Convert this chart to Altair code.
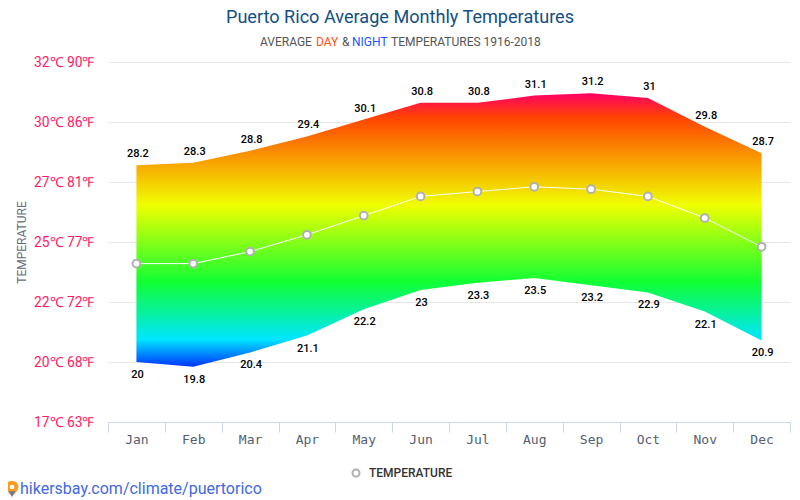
import altair as alt
import pandas as pd

months = ["Jan","Feb","Mar","Apr","May","Jun","Jul","Aug","Sep","Oct","Nov","Dec"]
day = [28.2,28.3,28.8,29.4,30.1,30.8,30.8,31.1,31.2,31,29.8,28.7]
night = [20,19.8,20.4,21.1,22.2,23,23.3,23.5,23.2,22.9,22.1,20.9]
avg = [24.1,24.1,24.6,25.3,26.1,26.9,27.1,27.3,27.2,26.9,26.0,24.8]
y_ticks = [17.5,20,22.5,25,27.5,30,32.5]

df = pd.DataFrame({"m": months, "day": day, "night": night, "avg": avg})
OX, OY = 108, 62
FONT = "Roboto"
one = alt.Data(values=[{}])

x = alt.X("m:N", sort=months, scale=alt.Scale(type="band", paddingInner=0, paddingOuter=0),
          axis=alt.Axis(title=None, labelAngle=0, labelFont="DejaVu Sans Mono", labelFontSize=13,
                        labelColor="#555e70", domainColor="#ccd6eb", tickColor="#ccd6eb",
                        tickSize=10, tickBand="extent", labelPadding=1, grid=False))
y_scale = alt.Scale(domain=[17.5, 32.5], nice=False, zero=False)
grad = alt.Gradient(gradient="linear", x1=0, x2=0, y1=0, y2=1, stops=[
    alt.GradientStop(offset=0, color="#ff0066"),
    alt.GradientStop(offset=0.09, color="#ff4400"),
    alt.GradientStop(offset=0.41, color="#f0ff00"),
    alt.GradientStop(offset=0.69, color="#11ff33"),
    alt.GradientStop(offset=0.90, color="#00e5ff"),
    alt.GradientStop(offset=1, color="#0033ff"),
])

area = alt.Chart(df).mark_area(color=grad).encode(
    x=x,
    y=alt.Y("day:Q", scale=y_scale, axis=alt.Axis(
        values=y_ticks, title="TEMPERATURE", titleFont=FONT, titleFontSize=12, titleFontWeight="normal",
        titleColor="#666e80", titleX=-80, titleY=180, domain=False, ticks=False, labelFont=FONT, labelFontSize=13.8,
        labelColor="#ff1a66", labelPadding=14, labelOffset=0.5, gridColor="#e6e6e6",
        labelExpr="floor(datum.value)+'℃ '+floor(datum.value*9/5+32)+'℉'")),
    y2="night:Q",
)
line = alt.Chart(df).mark_line(color="white", strokeWidth=1).encode(x=x, y=alt.Y("avg:Q", scale=y_scale))
pts = alt.Chart(df).mark_point(filled=False, fill="white", fillOpacity=1, stroke="#b0b0b0", strokeWidth=2,
                               opacity=1, size=60).encode(x=x, y=alt.Y("avg:Q", scale=y_scale))
lab_day = alt.Chart(df).mark_text(font=FONT, fontSize=11, fontWeight=500, color="#000", dx=1.5, dy=-11).encode(
    x=x, y=alt.Y("day:Q", scale=y_scale), text="day:Q")
lab_night = alt.Chart(df).mark_text(font=FONT, fontSize=11, fontWeight=500, color="#000", dx=1, dy=13).encode(
    x=x, y=alt.Y("night:Q", scale=y_scale), text="night:Q")


def label(s, px, py, size, color, align="left", weight=400):
    return alt.Chart(one).mark_text(text=s, font=FONT, fontSize=size, color=color, align=align,
                                    baseline="middle", fontWeight=weight).encode(
        x=alt.value(px - OX), y=alt.value(py - OY))


def marker(px, py, shape, size, fill):
    return alt.Chart(one).mark_point(shape=shape, size=size, filled=True, fill=fill, opacity=1,
                                     strokeWidth=0).encode(x=alt.value(px - OX), y=alt.value(py - OY))


PIN = "M0,-1 C0.62,-1 0.8,-0.55 0.8,-0.25 C0.8,0.2 0.25,0.6 0,1 C-0.25,0.6 -0.8,0.2 -0.8,-0.25 C-0.8,-0.55 -0.62,-1 0,-1 Z"
texts = [
    label("Puerto Rico Average Monthly Temperatures", 400, 18, 18.1, "#134f83", "center"),
    label("AVERAGE", 260, 42, 12, "#555555"),
    label("DAY", 316, 42, 12, "#ff5511"),
    label("&", 342, 42, 12, "#555555"),
    label("NIGHT", 352, 42, 12, "#2255ff"),
    label("TEMPERATURES 1916-2018", 391, 42, 12, "#555555"),
    label("TEMPERATURE", 369, 473, 12, "#333333", weight=500),
    label("hikersbay.com/climate/puertorico", 20, 489, 16, "#4169e1"),
    alt.Chart(one).mark_point(filled=False, fill="white", fillOpacity=1, stroke="#b0b0b0", strokeWidth=2,
                              opacity=1, size=50).encode(x=alt.value(356 - OX), y=alt.value(473 - OY)),
    marker(12, 489, PIN, 256, "#f79a1e"),
    marker(12, 494, "triangle-down", 40, "#5d7da8"),
    marker(12, 487, "circle", 22, "white"),
]

chart = alt.layer(area, line, pts, lab_day, lab_night, *texts).properties(
    width=682, height=360,
    padding={"left": 100, "top": 54, "right": 2, "bottom": 76},
    autosize=alt.AutoSizeParams(type="none"),
).configure_view(stroke=None)

chart.save("out.html", embed_options={"renderer": "svg", "actions": False})
